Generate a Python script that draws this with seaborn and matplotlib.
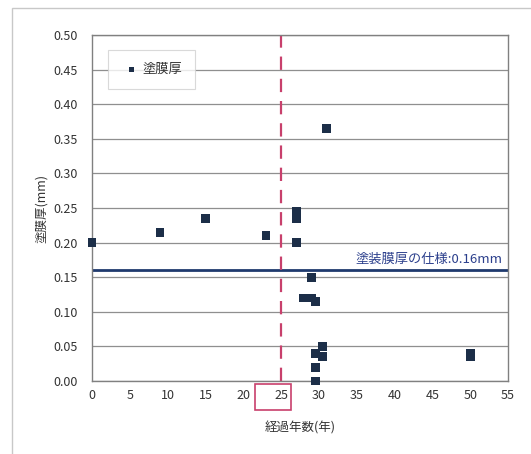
import matplotlib
matplotlib.use("Agg")
import matplotlib.pyplot as plt
from matplotlib.patches import Rectangle
import seaborn as sns
import pandas as pd

# Elapsed years and measured coating thickness (mm)
years = [0, 9, 15, 23, 27, 27, 27, 31, 29, 28, 29, 29.5, 30.5, 29.5, 30.5, 29.5, 29.5, 50, 50]
thickness = [0.20, 0.215, 0.235, 0.21, 0.245, 0.235, 0.20, 0.365, 0.15, 0.12, 0.12, 0.115,
             0.05, 0.04, 0.035, 0.02, 0.0, 0.04, 0.035]
spec_value = 0.16
threshold_year = 25
x_ticks = list(range(0, 56, 5))
y_ticks = [round(0.05 * i, 2) for i in range(11)]

sns.set_theme(style="white")
plt.rcParams["font.family"] = ["Noto Sans CJK JP", "DejaVu Sans"]

df = pd.DataFrame({"経過年数": years, "塗膜厚": thickness})

fig = plt.figure(figsize=(5.31, 4.54), dpi=100)
ax = fig.add_axes([0.1733, 0.1608, 0.7834, 0.7621])

# outer chart frame
fig.patches.append(Rectangle((0.022, -0.05), 1.2, 1.032, transform=fig.transFigure,
                             fill=False, edgecolor="#c8c8c8", linewidth=1.0))

ax.set_xlim(0, 55)
ax.set_ylim(0, 0.5)
ax.set_xticks(x_ticks)
ax.set_yticks(y_ticks)
ax.set_yticklabels([f"{v:.2f}" for v in y_ticks])
ax.yaxis.grid(True, color="#8f8f8f", linewidth=0.9)
ax.set_axisbelow(True)
for s in ax.spines.values():
    s.set_color("#808080")
    s.set_linewidth(1.0)
ax.tick_params(axis="x", direction="in", length=3, color="#808080", labelsize=9,
               labelcolor="#333333", pad=6)
ax.tick_params(axis="y", length=0, labelsize=9, labelcolor="#333333", pad=10)

# specification line and label
ax.axhline(spec_value, color="#1f3a6e", linewidth=2.0, zorder=2)
ax.text(54.2, spec_value + 0.007, f"塗装膜厚の仕様:{spec_value:.2f}mm", ha="right", va="bottom",
        fontsize=9.5, color="#2b3f8c")

# elapsed-year threshold
ax.axvline(threshold_year, color="#c8406c", linewidth=1.6, linestyle=(0, (6, 4)), zorder=2)

sns.scatterplot(data=df, x="経過年数", y="塗膜厚", marker="s", s=40, color="#1c2e48",
                edgecolor="none", ax=ax, label="塗膜厚", zorder=4, clip_on=False)

leg = ax.legend(loc="upper left", bbox_to_anchor=(0.038, 0.957), frameon=True, fancybox=False,
                fontsize=9.5, handletextpad=0.0, borderpad=1.0, markerscale=0.6,
                handlelength=1.6, borderaxespad=0.0)
leg.get_frame().set_edgecolor("#d0d0d0")
leg.get_frame().set_linewidth(0.8)
for t in leg.get_texts():
    t.set_color("#333333")

ax.set_xlabel("経過年数(年)", fontsize=9, color="#333333", labelpad=14)
ax.set_ylabel("塗膜厚(mm)", fontsize=9, color="#333333", labelpad=4)

# highlight box around the 25-year tick label
fig.patches.append(Rectangle((255 / 531, 1 - 410 / 454), 36 / 531, 26 / 454,
                             transform=fig.transFigure, fill=False,
                             edgecolor="#c8406c", linewidth=1.2))

fig.savefig("out.png", dpi=100, facecolor="white")
